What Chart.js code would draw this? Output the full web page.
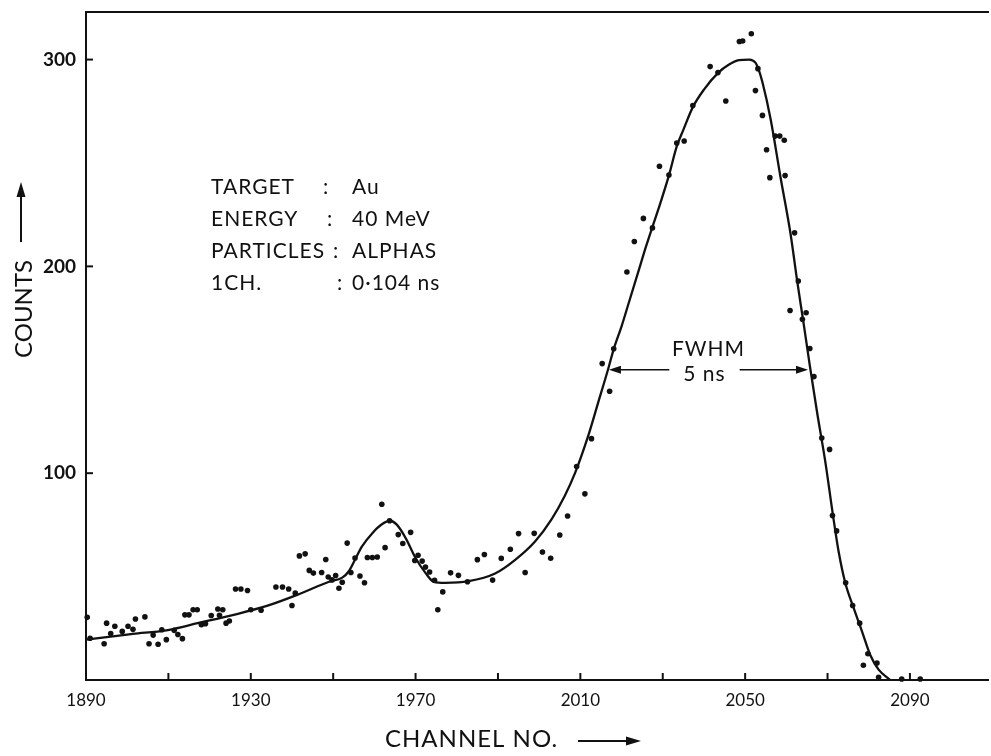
<!DOCTYPE html>
<html>
<head>
<meta charset="utf-8">
<script src="https://cdn.jsdelivr.net/npm/chart.js@4.4.1/dist/chart.umd.min.js"></script>
<style>
html,body{margin:0;padding:0;background:#fff;overflow:hidden}
canvas{display:block}
</style>
</head>
<body>
<canvas id="c" width="991" height="756"></canvas>
<script>
// ---- data ----
const pointChannels = [1890.3,1891,1894.4,1895,1896,1897,1898.8,1900.2,1901.4,1902,1904.3,1905.3,1906.3,1907.5,1908.4,1909.5,1911.4,1912.3,1913.4,1914,1915,1916,1917,1918,1919,1920.4,1922,1922.4,1923.2,1924,1924.8,1926.3,1927.6,1929.2,1930,1932.5,1936.1,1937.7,1939.2,1940,1940.8,1941.8,1943.2,1944.2,1945.2,1947.2,1948.2,1948.8,1949.7,1950.6,1951.4,1952.2,1953.4,1954.3,1955.3,1956.5,1957.6,1958.3,1959.5,1960.7,1961.8,1962.6,1963.7,1965.8,1966.9,1968.8,1969.8,1970.6,1971.6,1972.4,1973.4,1974.6,1975.4,1976.6,1978.5,1980.4,1982.6,1985,1986.7,1988.7,1990.8,1993,1995,1996.6,1998.8,2000.8,2002.8,2005,2006.9,2009.1,2011.1,2012.7,2015.3,2017.1,2018.1,2021.3,2023.1,2025.3,2027.5,2029.2,2031.5,2033.4,2035.2,2037.3,2041.5,2043.4,2045.3,2048.6,2049.4,2051.5,2052.5,2053.1,2054.2,2055.2,2056,2057.3,2058.4,2059.5,2059.7,2060.9,2062,2062.9,2063.9,2064.8,2065.7,2066.7,2068.6,2070.5,2071.2,2072.2,2074.4,2076.1,2077.8,2078.7,2079.8,2082,2082.4,2088,2092.5];
const pointCounts = [30.3,20.2,17.5,27.5,22.5,26,23.5,26,24.5,29.5,30.5,17.5,21.7,17.3,24.3,19.5,24,22,20,31.5,31.5,34,34,26.7,27.2,31.2,34.3,31.3,34,27.5,28.5,44,44,43.3,34,33.7,45,45,44,36,42,60,61,53,51.7,52,58.3,49.8,48.4,50.5,44.4,47.3,66.2,52,59,50.3,47,59.2,59.2,59.5,85,64,77,70.3,66,71.4,57.8,60.3,57.5,54.6,52.2,48.2,34,42.6,51.8,50.6,47.5,58.2,60.7,48.3,58.8,63.2,70.8,52,70.9,61.9,58.9,70.1,79.3,103.2,90,116.7,153,139.6,160.2,197.3,212,223.2,218.6,248.4,244.2,259.6,260.6,277.8,296.6,293.7,280,308.7,309,312.5,285,295.6,273,256.4,242.9,263,263,261,243.9,178.7,216.2,192.9,174.4,177.6,160.3,146.7,117,111.5,79.5,72.1,47,36,27.5,7.1,12.7,8.2,1.3,0.5,0.5];

const curveChannels = [1890,1896,1901.4,1909.5,1917.6,1925.6,1933.7,1941.8,1949,1952.2,1953.8,1955.5,1957,1959.5,1961.9,1963.7,1965.5,1967.6,1970,1972.4,1974.4,1977.2,1982.9,1989.3,1994.1,1999,2003,2006.2,2008.7,2011.9,2014.3,2016.7,2018.1,2020,2022,2024,2026,2027.4,2029,2031.5,2033.4,2035,2037.3,2040,2043.5,2046,2048.5,2051,2052.5,2053.2,2054.2,2056.2,2058.6,2061,2062.7,2064.3,2065.7,2067.5,2069.5,2071.3,2072.7,2074.3,2076.4,2078.4,2080.4,2082.4,2085.2];
const curveCounts = [19.5,21,22.3,24,27.7,31.4,35.7,41.6,47.5,49.5,52.6,59,64.6,71,75.4,77,75,68.6,59,51.8,47.5,47,47.8,51.5,58,67,77.7,89,100,118,134,150,160,171,184,197,210,218.5,228,244,258,266,277,285.5,293.7,297.5,299.7,300,298.5,295.6,289,271,243,216,192,171,152,129,105,80,62,47,34.5,23.3,12,5,0];

const xTickValues = [1890,1910,1930,1950,1970,1990,2010,2030,2050,2070,2090];
const xLabelValues = [1890,1930,1970,2010,2050,2090];
const yTickValues = [100,200,300];
const xRange = [1890, 2109];
const yRange = [0, 323];

const fwhmChannels = [2016.7, 2065.5];
const fwhmLevel = 150;
const fwhmTitle = 'FWHM';
const fwhmValue = '5 ns';

const infoLabels = ['TARGET', 'ENERGY', 'PARTICLES', '1CH.'];
const infoValues = ['Au', '40 MeV', 'ALPHAS', '0\u00B7104 ns'];

const xTitle = 'CHANNEL NO.';
const yTitle = 'COUNTS';

// ---- drawing helpers ----
const INK = '#111';
function arrowHead(ctx, tx, ty, angle, len, halfW) {
  ctx.save();
  ctx.translate(tx, ty);
  ctx.rotate(angle);
  ctx.beginPath();
  ctx.moveTo(0, 0);
  ctx.lineTo(-len, -halfW);
  ctx.lineTo(-len, halfW);
  ctx.closePath();
  ctx.fill();
  ctx.restore();
}

const decor = {
  id: 'decor',
  afterDraw(chart) {
    const {ctx, chartArea, scales} = chart;
    const xs = scales.x, ys = scales.y;
    ctx.save();
    ctx.strokeStyle = INK;
    ctx.fillStyle = INK;
    ctx.lineWidth = 2;

    // inward tick marks
    xs.ticks.forEach(t => {
      const px = xs.getPixelForValue(t.value);
      if (px <= chartArea.left + 2) return;
      ctx.beginPath();
      ctx.moveTo(px, chartArea.bottom);
      ctx.lineTo(px, chartArea.bottom - 7);
      ctx.stroke();
    });
    ys.ticks.forEach(t => {
      const py = ys.getPixelForValue(t.value);
      ctx.beginPath();
      ctx.moveTo(chartArea.left, py);
      ctx.lineTo(chartArea.left + 7, py);
      ctx.stroke();
    });

    // FWHM annotation
    const ay = ys.getPixelForValue(fwhmLevel);
    const xl = xs.getPixelForValue(fwhmChannels[0]);
    const xr = xs.getPixelForValue(fwhmChannels[1]);
    const cx = (xl + xr) / 2;
    ctx.font = '21px Lato';
    ctx.textAlign = 'center';
    ctx.textBaseline = 'alphabetic';
    ctx.letterSpacing = '1px';
    ctx.fillText(fwhmTitle, cx, ay - 14);
    ctx.fillText(fwhmValue, cx - 4, ay + 11);
    const gap = ctx.measureText(fwhmValue).width / 2 + 14;
    ctx.lineWidth = 1.6;
    ctx.beginPath();
    ctx.moveTo(xl + 4, ay); ctx.lineTo(cx - 4 - gap, ay);
    ctx.moveTo(cx - 4 + gap, ay); ctx.lineTo(xr - 4, ay);
    ctx.stroke();
    arrowHead(ctx, xl + 1, ay, Math.PI, 12, 4);
    arrowHead(ctx, xr - 1, ay, 0, 12, 4);

    // info block
    ctx.font = '21px Lato';
    ctx.textAlign = 'left';
    const baseY = [194, 226, 258, 290];
    const colonX = [323, 327, 333, 337];
    infoLabels.forEach((lab, i) => {
      ctx.fillText(lab, 211, baseY[i]);
      ctx.fillText(':', colonX[i], baseY[i]);
      ctx.fillText(infoValues[i], 352, baseY[i]);
    });

    // x axis title with arrow
    ctx.font = '24px Lato';
    ctx.letterSpacing = '1px';
    ctx.textAlign = 'left';
    ctx.fillText(xTitle, 385, 747);
    ctx.lineWidth = 2;
    ctx.beginPath();
    ctx.moveTo(578, 741); ctx.lineTo(628, 741);
    ctx.stroke();
    arrowHead(ctx, 641, 741, 0, 15, 4.5);

    // y axis title with arrow (rotated)
    ctx.save();
    ctx.translate(32, 358);
    ctx.rotate(-Math.PI / 2);
    ctx.letterSpacing = '0px';
    ctx.fillText(yTitle, 0, 0);
    ctx.beginPath();
    ctx.moveTo(116, -11); ctx.lineTo(163, -11);
    ctx.stroke();
    arrowHead(ctx, 176, -11, 0, 15, 4.5);
    ctx.restore();

    ctx.restore();
  }
};

const pointData = pointChannels.map((c, i) => ({x: c, y: pointCounts[i]}));
const curveData = curveChannels.map((c, i) => ({x: c, y: curveCounts[i]}));

new Chart(document.getElementById('c'), {
  type: 'scatter',
  data: {
    datasets: [
      {
        label: 'Counts',
        data: pointData,
        showLine: false,
        pointRadius: 2.8,
        pointHoverRadius: 2.8,
        pointBackgroundColor: INK,
        pointBorderWidth: 0,
        clip: false
      },
      {
        label: 'Fit',
        type: 'line',
        data: curveData,
        borderColor: INK,
        borderWidth: 2.3,
        pointRadius: 0,
        fill: false,
        cubicInterpolationMode: 'monotone',
        clip: false
      }
    ]
  },
  options: {
    responsive: false,
    animation: false,
    devicePixelRatio: 1,
    layout: {padding: 0},
    plugins: {legend: {display: false}, tooltip: {enabled: false}},
    scales: {
      x: {
        type: 'linear', position: 'bottom', min: xRange[0], max: xRange[1],
        afterBuildTicks: s => { s.ticks = xTickValues.map(v => ({value: v})); },
        afterFit: s => { s.height = 76; s.paddingLeft = 0; s.paddingRight = 0; },
        grid: {display: false, drawTicks: false},
        border: {display: true, color: INK, width: 2},
        ticks: {
          autoSkip: false, maxRotation: 0, padding: 10, color: INK,
          font: {family: 'Lato', size: 17},
          callback: v => xLabelValues.includes(v) ? String(v) : ''
        }
      },
      x2: {
        type: 'linear', position: 'top', min: xRange[0], max: xRange[1],
        afterFit: s => { s.height = 12; s.paddingLeft = 0; s.paddingRight = 0; },
        ticks: {display: false},
        grid: {display: false, drawTicks: false},
        border: {display: true, color: INK, width: 2}
      },
      y: {
        type: 'linear', position: 'left', min: yRange[0], max: yRange[1],
        afterBuildTicks: s => { s.ticks = yTickValues.map(v => ({value: v})); },
        afterFit: s => { s.width = 86; s.paddingTop = 0; s.paddingBottom = 0; },
        grid: {display: false, drawTicks: false},
        border: {display: true, color: INK, width: 2},
        ticks: {
          padding: 10, color: INK,
          font: {family: 'Lato', size: 19, weight: 'bold'},
          callback: v => String(v)
        }
      }
    }
  },
  plugins: [decor]
});
</script>
</body>
</html>
